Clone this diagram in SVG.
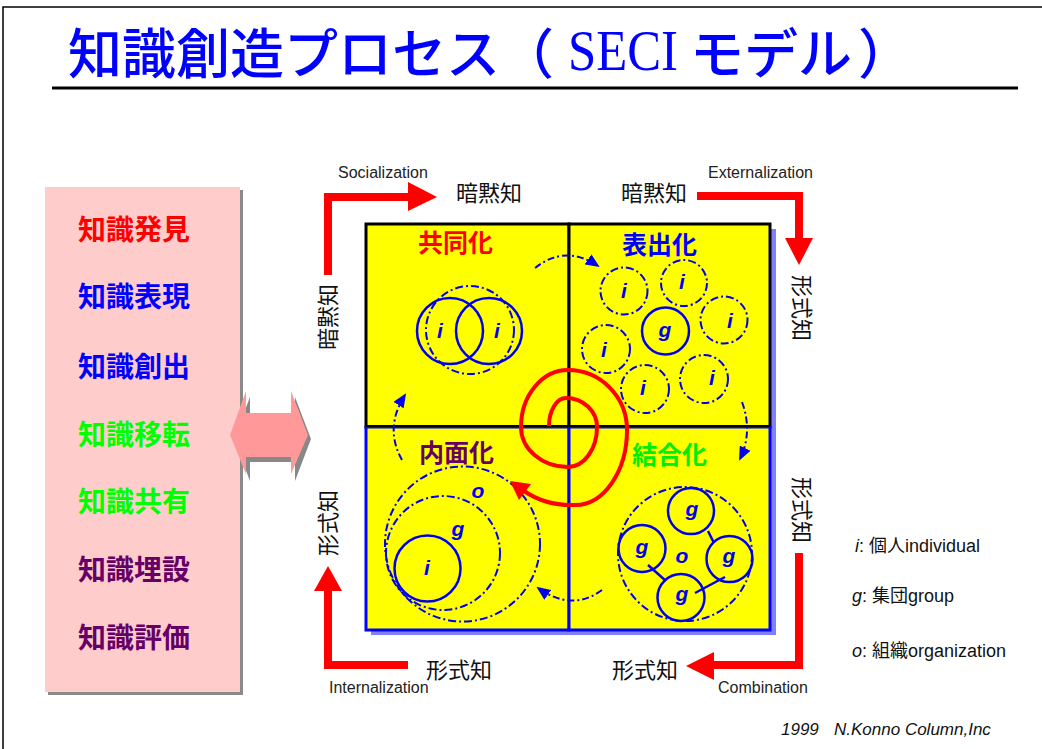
<svg xmlns="http://www.w3.org/2000/svg" width="1042" height="749" viewBox="0 0 1042 749">
<style>
.jp{font-family:"Noto Sans CJK JP","Noto Sans CJK SC",sans-serif}
.lat{font-family:"Liberation Sans",Arial,sans-serif}
.side{font-size:28px;font-weight:bold}
.ql{font-size:25px;font-weight:bold}
.lbl{font-size:22px;fill:#111}
.en{font-size:16px;fill:#222}
.sym{font-family:"Liberation Sans",Arial,sans-serif;font-style:italic;font-weight:bold;font-size:21px;fill:#0000EE;text-anchor:middle}
.solid{fill:none;stroke:#0000EE;stroke-width:2.5}
.dash{fill:none;stroke:#0000EE;stroke-width:2;stroke-dasharray:8 3 2 3}
.flow{fill:none;stroke:#0000EE;stroke-width:2;stroke-dasharray:7 3 2 3}
.red{fill:none;stroke:#FF0000;stroke-width:8}
.leg{font-size:18px;fill:#111}
</style>
<defs>
<marker id="bh" markerUnits="userSpaceOnUse" markerWidth="14" markerHeight="12" refX="12" refY="6" orient="auto">
<path d="M0,0 L14,6 L0,12 Z" fill="#0000EE"/>
</marker>
</defs>
<path d="M3,760 V7 H1042" fill="none" stroke="#000" stroke-width="1.5"/>
<g id="title">
<text class="jp" x="68" y="74" font-size="54" font-weight="500" fill="#0000FF">知識創造プロセス</text>
<text class="jp" x="500" y="74" font-size="54" font-weight="500" fill="#0000FF">（</text>
<text x="568" y="70" font-family="Liberation Serif,serif" font-size="56" fill="#0000FF" textLength="110" lengthAdjust="spacingAndGlyphs">SECI</text>
<text class="jp" x="690" y="74" font-size="54" font-weight="500" fill="#0000FF">モデル</text>
<text class="jp" x="858" y="74" font-size="54" font-weight="500" fill="#0000FF">）</text>
<rect x="52" y="86.5" width="966" height="3" fill="#000"/>
</g>
<g id="side-box">
<rect x="48" y="190" width="195" height="505" fill="#8a8a8a"/>
<rect x="45" y="187" width="195" height="505" fill="#FFCCCC"/>
<text class="jp side" x="78" y="240" fill="#FF0000">知識発見</text>
<text class="jp side" x="78" y="307" fill="#0000FF">知識表現</text>
<text class="jp side" x="78" y="377" fill="#0000FF">知識創出</text>
<text class="jp side" x="78" y="445" fill="#00FF00">知識移転</text>
<text class="jp side" x="78" y="512" fill="#00FF00">知識共有</text>
<text class="jp side" x="78" y="580" fill="#660066">知識埋設</text>
<text class="jp side" x="78" y="648" fill="#660066">知識評価</text>
</g>
<g id="double-arrow">
<polygon points="234,439 250,397 250,418 295,418 295,397 311,439 295,481 295,462 250,462 250,481" fill="#888"/>
<polygon points="230,435 246,391 246,413 291,413 291,391 308,435 291,474 291,457 246,457 246,474" fill="#FF9999"/>
</g>
<g id="matrix">
<rect x="371" y="229" width="405" height="406" fill="#8080FF"/>
<rect x="366" y="224" width="203" height="203" fill="#FFFF00" stroke="#000" stroke-width="3"/>
<rect x="569" y="224" width="201" height="203" fill="#FFFF00" stroke="#000" stroke-width="3"/>
<rect x="366" y="427" width="203" height="203" fill="#FFFF00" stroke="#0000FF" stroke-width="3"/>
<rect x="569" y="427" width="201" height="203" fill="#FFFF00" stroke="#0000FF" stroke-width="3"/>
<line x1="366" y1="426" x2="770" y2="426" stroke="#000" stroke-width="2"/>
</g>
<g id="socialization">
<text class="jp ql" x="418" y="252" fill="#FF0000">共同化</text>
<circle class="dash" cx="470" cy="330" r="44"/>
<circle class="solid" cx="450" cy="331" r="33"/>
<circle class="solid" cx="489" cy="331" r="33"/>
<text class="sym" x="440" y="338">i</text>
<text class="sym" x="497" y="338">i</text>
</g>
<g id="externalization">
<text class="jp ql" x="622" y="254" fill="#0000FF">表出化</text>
<circle class="dash" cx="624" cy="291" r="23.5"/>
<circle class="dash" cx="684" cy="283" r="23"/>
<circle class="dash" cx="724" cy="320" r="23.5"/>
<circle class="dash" cx="606" cy="349" r="24"/>
<circle class="dash" cx="645" cy="389" r="24"/>
<circle class="dash" cx="704" cy="379" r="24"/>
<circle class="solid" cx="665.5" cy="331" r="23.5"/>
<text class="sym" x="665" y="337">g</text>
<text class="sym" x="624" y="298">i</text>
<text class="sym" x="682" y="289">i</text>
<text class="sym" x="730" y="328">i</text>
<text class="sym" x="604" y="357">i</text>
<text class="sym" x="643" y="395">i</text>
<text class="sym" x="712" y="385">i</text>
</g>
<g id="internalization">
<text class="jp ql" x="419" y="462" fill="#660066">内面化</text>
<circle class="dash" cx="462.5" cy="544" r="77.5"/>
<circle class="dash" cx="443" cy="553" r="57"/>
<circle class="solid" cx="427.5" cy="568.5" r="33"/>
<text class="sym" x="478" y="498">o</text>
<text class="sym" x="458" y="536">g</text>
<text class="sym" x="427" y="575">i</text>
</g>
<g id="combination">
<text class="jp ql" x="632" y="464" fill="#00EE00">結合化</text>
<circle class="dash" cx="685" cy="554" r="67"/>
<line x1="708" y1="531" x2="714" y2="543" stroke="#0000EE" stroke-width="2.5"/>
<line x1="648" y1="565" x2="666" y2="581" stroke="#0000EE" stroke-width="2.5"/>
<line x1="725" y1="577" x2="695" y2="593" stroke="#0000EE" stroke-width="2.5"/>
<circle class="solid" cx="691" cy="511" r="23"/>
<circle class="solid" cx="642" cy="548.5" r="23.5"/>
<circle class="solid" cx="729.5" cy="559" r="23"/>
<circle class="solid" cx="681" cy="597.5" r="23.5"/>
<text class="sym" x="692" y="516">g</text>
<text class="sym" x="642" y="554">g</text>
<text class="sym" x="729" y="563">g</text>
<text class="sym" x="682" y="601">g</text>
<text class="sym" x="682" y="563">o</text>
</g>
<g id="connectors">
<path class="flow" d="M535,268 Q565,244 598,266" marker-end="url(#bh)"/>
<path class="flow" d="M742,402 Q753,432 740,459" marker-end="url(#bh)"/>
<path class="flow" d="M602,590 Q572,612 538,588" marker-end="url(#bh)"/>
<path class="flow" d="M402,460 Q384,428 405,395" marker-end="url(#bh)"/>
<path d="M549,426 A17,28 0 0 1 566,398 A31,29 0 0 1 597,427 A29,40 0 0 1 568,467 A47,40 0 0 1 521,427 A47,57 0 0 1 568,370 A59,60 0 0 1 627,430 A52,75 0 0 1 575,505 Q546,506 524,491" fill="none" stroke="#FF0000" stroke-width="4"/>
<polygon points="510,481 531,484 519,500" fill="#FF0000"/>
<polyline class="red" points="328,275 328,197 410,197"/>
<polygon points="408,182 437,197 408,211" fill="#FF0000"/>
<polyline class="red" points="697,196 799,196 799,240"/>
<polygon points="785,238 813,238 799,265" fill="#FF0000"/>
<polyline class="red" points="799,553 799,665 712,665"/>
<polygon points="714,652 686,666 714,680" fill="#FF0000"/>
<polyline class="red" points="408,665 328,665 328,589"/>
<polygon points="314,591 328,566 342,591" fill="#FF0000"/>
</g>
<g id="labels">
<text class="lat en" x="338" y="178">Socialization</text>
<text class="lat en" x="708" y="178">Externalization</text>
<text class="lat en" x="329" y="693">Internalization</text>
<text class="lat en" x="718" y="693">Combination</text>
<text class="jp lbl" x="456" y="201">暗黙知</text>
<text class="jp lbl" x="621" y="201">暗黙知</text>
<text class="jp lbl" x="426" y="678">形式知</text>
<text class="jp lbl" x="612" y="678">形式知</text>
<text class="jp lbl" text-anchor="middle" transform="translate(328,317) rotate(-90)" y="8">暗黙知</text>
<text class="jp lbl" text-anchor="middle" transform="translate(328,523) rotate(-90)" y="8">形式知</text>
<text class="jp lbl" text-anchor="middle" transform="translate(802,308) rotate(90)" y="8">形式知</text>
<text class="jp lbl" text-anchor="middle" transform="translate(802,510) rotate(90)" y="8">形式知</text>
</g>
<g id="legend">
<text class="lat leg" x="855" y="552"><tspan font-style="italic">i</tspan>: <tspan class="jp">個人</tspan>individual</text>
<text class="lat leg" x="852" y="602"><tspan font-style="italic">g</tspan>: <tspan class="jp">集団</tspan>group</text>
<text class="lat leg" x="852" y="657"><tspan font-style="italic">o</tspan>: <tspan class="jp">組織</tspan>organization</text>
<text class="lat" x="781" y="735" font-size="17" font-style="italic" fill="#111">1999<tspan x="834">N.Konno Column,Inc</tspan></text>
</g>
</svg>
